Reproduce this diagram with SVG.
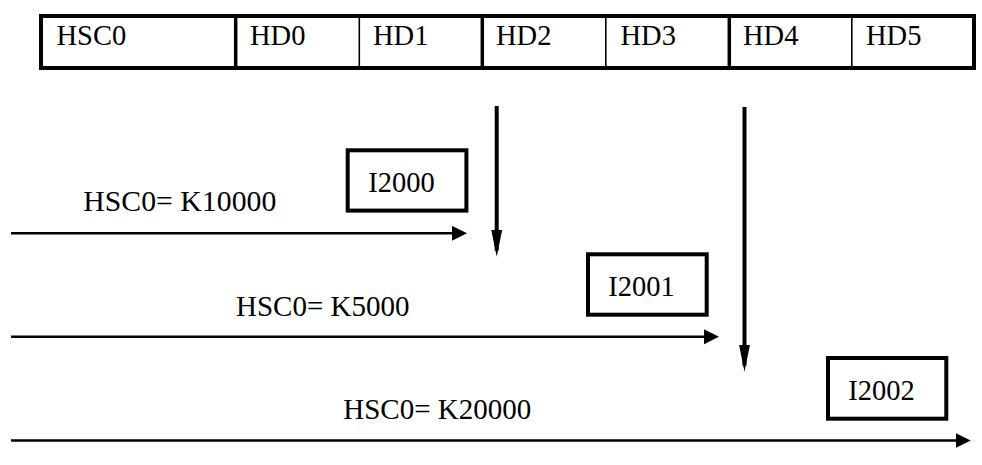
<svg xmlns="http://www.w3.org/2000/svg" width="982" height="465" viewBox="0 0 982 465">
<style>
text{font-family:"Liberation Serif","Times New Roman",Times,serif;font-size:28.5px;fill:#000}
.lbl{font-size:29px}
.box{fill:#fff;stroke:#000;stroke-width:4}
.thick{stroke:#000;stroke-width:3.5}
.thin{stroke:#000;stroke-width:1.6}
.h{stroke:#000;stroke-width:2.5;fill:none}
.v{stroke:#000;stroke-width:4;fill:none}
</style>
<defs>
<marker id="ah" markerUnits="userSpaceOnUse" markerWidth="16" markerHeight="16" refX="10" refY="7.5" orient="auto">
<path d="M0,0 L15,7.5 L0,15 z" fill="#000"/>
</marker>
<marker id="av" markerUnits="userSpaceOnUse" markerWidth="28" markerHeight="12" refX="21" refY="5.5" orient="auto">
<path d="M0,0 L27,5.5 L0,11 z" fill="#000"/>
</marker>
</defs>
<g id="table">
<rect x="41" y="16" width="933" height="52" fill="#fff" stroke="#000" stroke-width="4"/>
<line class="thick" x1="235.7" y1="16" x2="235.7" y2="68"/>
<line class="thin" x1="359.3" y1="16" x2="359.3" y2="68"/>
<line class="thick" x1="482.3" y1="16" x2="482.3" y2="68"/>
<line class="thin" x1="605.8" y1="16" x2="605.8" y2="68"/>
<line class="thick" x1="729.3" y1="16" x2="729.3" y2="68"/>
<line class="thin" x1="851.8" y1="16" x2="851.8" y2="68"/>
<text x="56.5" y="45">HSC0</text>
<text x="250" y="45">HD0</text>
<text x="373" y="45">HD1</text>
<text x="496" y="45">HD2</text>
<text x="620.5" y="45">HD3</text>
<text x="743" y="45">HD4</text>
<text x="866" y="45">HD5</text>
</g>
<g id="n-i2000">
<rect class="box" x="347.7" y="150.3" width="118.7" height="60.3"/>
<text x="368.3" y="191.7">I2000</text>
</g>
<g id="n-i2001">
<rect class="box" x="588" y="254.3" width="118.7" height="60.4"/>
<text x="608.3" y="296">I2001</text>
</g>
<g id="n-i2002">
<rect class="box" x="828" y="358" width="118.3" height="60.7"/>
<text x="848.3" y="400">I2002</text>
</g>
<g id="labels">
<text class="lbl" x="83.3" y="210.7" textLength="193" lengthAdjust="spacingAndGlyphs">HSC0= K10000</text>
<text class="lbl" x="236" y="316">HSC0= K5000</text>
<text class="lbl" x="343.3" y="419.3">HSC0= K20000</text>
</g>
<g id="connectors">
<line class="h" x1="11" y1="233.3" x2="462" y2="233.3" marker-end="url(#ah)"/>
<line class="h" x1="11" y1="336.7" x2="714" y2="336.7" marker-end="url(#ah)"/>
<line class="h" x1="11" y1="440.5" x2="965.7" y2="440.5" marker-end="url(#ah)"/>
<line class="v" x1="496.7" y1="106" x2="496.7" y2="250.7" marker-end="url(#av)"/>
<line class="v" x1="744.5" y1="107" x2="744.5" y2="365.7" marker-end="url(#av)"/>
</g>
</svg>
